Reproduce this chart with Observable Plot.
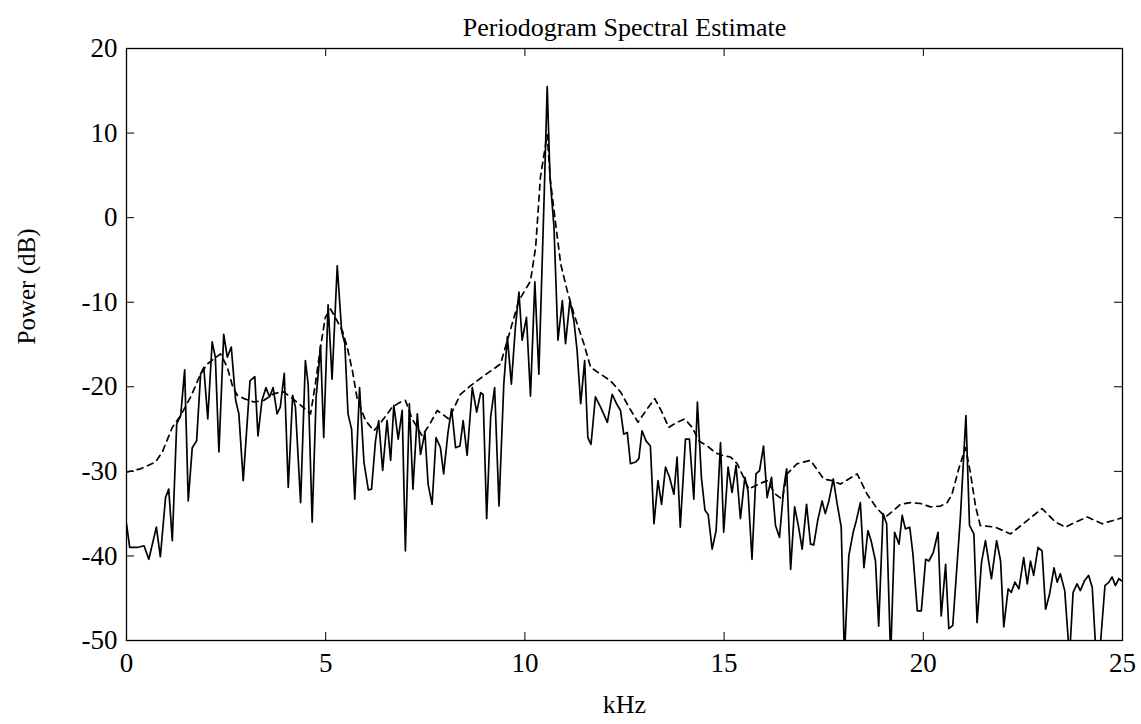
<!DOCTYPE html>
<html><head><meta charset="utf-8">
<script src="https://cdn.jsdelivr.net/npm/d3@7"></script>
<script src="https://cdn.jsdelivr.net/npm/@observablehq/plot@0.6"></script>
<style>body{margin:0;background:#fff}</style>
</head><body><div id="chart"></div>
<script>
// Periodogram (solid line): frequency in kHz and power in dB
const periodogramKHz = [0.00,0.08,0.27,0.44,0.56,0.75,0.85,0.98,1.06,1.15,1.26,1.36,1.46,1.55,1.65,1.76,1.86,1.94,2.04,2.15,2.23,2.32,2.44,2.53,2.63,2.74,2.82,2.93,3.10,3.22,3.30,3.40,3.50,3.59,3.68,3.78,3.86,3.96,4.06,4.17,4.24,4.37,4.49,4.56,4.66,4.76,4.83,4.87,4.95,5.06,5.16,5.29,5.40,5.48,5.56,5.65,5.73,5.85,5.96,6.07,6.15,6.25,6.33,6.43,6.54,6.63,6.71,6.82,6.92,7.00,7.10,7.19,7.30,7.38,7.49,7.57,7.67,7.77,7.88,7.96,8.07,8.16,8.26,8.37,8.45,8.55,8.68,8.79,8.89,8.95,9.04,9.14,9.24,9.35,9.47,9.56,9.66,9.76,9.85,9.93,10.04,10.14,10.25,10.35,10.48,10.56,10.63,10.73,10.83,10.94,11.02,11.13,11.23,11.31,11.40,11.50,11.58,11.66,11.77,11.90,12.07,12.19,12.30,12.40,12.48,12.57,12.65,12.78,12.86,12.94,13.04,13.15,13.24,13.34,13.43,13.53,13.63,13.74,13.82,13.90,14.03,14.13,14.24,14.33,14.43,14.52,14.60,14.70,14.80,14.91,14.99,15.10,15.20,15.30,15.41,15.52,15.60,15.70,15.80,15.89,15.99,16.08,16.19,16.29,16.39,16.50,16.57,16.67,16.77,16.87,16.96,17.07,17.17,17.25,17.35,17.46,17.54,17.63,17.74,17.84,17.94,18.02,18.13,18.24,18.32,18.42,18.51,18.61,18.69,18.80,18.88,18.99,19.08,19.18,19.28,19.39,19.47,19.55,19.66,19.74,19.85,19.95,20.06,20.14,20.25,20.37,20.45,20.56,20.64,20.74,20.93,21.07,21.16,21.27,21.35,21.46,21.56,21.71,21.84,21.94,22.02,22.13,22.21,22.30,22.40,22.52,22.61,22.69,22.77,22.88,22.98,23.07,23.17,23.28,23.36,23.44,23.55,23.67,23.76,23.86,23.94,24.05,24.15,24.24,24.34,24.42,24.56,24.66,24.74,24.82,24.91,25.00];
const periodogramDB = [-36.2,-39.0,-39.0,-38.8,-40.4,-36.6,-40.1,-33.1,-32.1,-38.2,-24.4,-23.4,-18.0,-33.5,-27.2,-26.4,-18.5,-17.7,-23.8,-14.7,-16.5,-27.7,-13.8,-16.5,-15.3,-21.6,-23.2,-31.1,-19.3,-18.8,-25.8,-21.6,-20.1,-21.2,-20.1,-23.2,-22.4,-18.4,-31.9,-21.0,-22.4,-33.7,-16.9,-19.7,-36.0,-21.2,-17.5,-15.1,-26.0,-10.3,-19.1,-5.7,-13.4,-14.9,-23.2,-25.0,-33.3,-20.1,-28.9,-32.2,-32.1,-26.4,-24.0,-29.9,-24.0,-28.7,-22.2,-26.2,-22.8,-39.4,-22.0,-32.1,-23.2,-28.0,-25.4,-31.5,-33.9,-26.0,-27.2,-30.3,-25.4,-22.6,-27.2,-27.0,-24.0,-28.1,-20.1,-23.0,-20.7,-20.9,-35.6,-23.6,-20.1,-34.1,-19.7,-14.1,-19.7,-13.0,-8.8,-14.5,-11.8,-21.1,-7.6,-18.5,2.0,15.5,4.8,-1.1,-14.5,-9.8,-14.9,-9.8,-12.2,-15.7,-22.0,-16.9,-26.0,-26.8,-21.2,-22.4,-24.2,-20.9,-22.0,-22.8,-25.6,-25.4,-29.1,-28.9,-28.5,-25.2,-26.4,-27.0,-36.2,-31.1,-33.9,-29.5,-30.7,-32.7,-28.3,-36.6,-26.2,-26.2,-33.3,-21.8,-30.7,-34.6,-35.1,-39.2,-37.0,-26.6,-37.2,-29.5,-32.5,-29.3,-35.6,-30.7,-32.3,-40.4,-30.3,-29.9,-27.0,-33.1,-30.7,-36.4,-37.8,-31.9,-29.7,-41.6,-34.2,-36.6,-39.2,-33.9,-38.6,-38.7,-35.8,-33.5,-35.0,-33.5,-30.9,-33.9,-36.6,-52.0,-40.0,-37.2,-35.8,-33.7,-41.4,-37.0,-38.2,-40.6,-48.3,-35.0,-36.2,-52.0,-37.2,-38.6,-35.2,-36.8,-36.6,-39.8,-46.5,-46.5,-40.4,-40.6,-39.6,-37.2,-47.1,-41.0,-48.6,-48.2,-35.5,-23.4,-36.4,-37.4,-47.9,-40.8,-38.2,-42.7,-38.2,-40.6,-48.4,-43.9,-44.3,-43.1,-43.9,-40.2,-43.3,-40.6,-42.3,-39.0,-39.4,-46.3,-44.5,-41.4,-43.1,-42.1,-44.1,-52.0,-44.3,-43.3,-44.1,-42.9,-42.3,-43.7,-52.0,-52.0,-43.5,-43.1,-42.5,-43.5,-42.7,-43.0];

// Smoothed estimate (dashed line)
const welchKHz = [0.00,0.35,0.73,0.90,1.15,1.36,1.61,1.86,2.03,2.36,2.53,2.66,2.78,2.95,3.20,3.45,3.70,3.95,4.33,4.62,4.74,4.87,4.99,5.12,5.24,5.42,5.54,5.67,5.79,6.00,6.21,6.42,6.67,6.88,7.00,7.17,7.42,7.59,7.80,8.09,8.38,8.63,8.97,9.39,9.56,9.85,10.14,10.27,10.39,10.56,10.64,10.77,10.90,11.06,11.23,11.48,11.65,11.90,12.15,12.40,12.61,12.84,13.07,13.26,13.44,13.61,13.82,14.01,14.20,14.37,14.58,14.78,14.95,15.16,15.33,15.49,15.62,15.87,16.08,16.29,16.46,16.58,16.83,17.17,17.50,17.71,17.92,18.13,18.34,18.59,18.84,19.05,19.26,19.43,19.68,19.93,20.18,20.43,20.60,20.72,20.89,21.06,21.18,21.31,21.43,21.81,22.19,22.56,22.98,23.32,23.57,23.82,24.12,24.49,24.91,25.00];
const welchDB = [-30.1,-29.7,-28.9,-27.7,-24.8,-23.4,-21.2,-18.5,-17.3,-16.1,-17.7,-19.9,-21.0,-21.4,-21.8,-21.6,-20.8,-20.6,-22.0,-23.2,-19.7,-15.3,-11.8,-10.8,-11.8,-13.4,-15.3,-18.1,-21.4,-24.0,-25.2,-24.0,-22.4,-21.8,-21.6,-23.8,-25.8,-24.6,-22.8,-23.8,-20.9,-19.9,-18.7,-17.3,-14.5,-9.8,-7.5,-3.5,4.8,9.8,4.4,-0.7,-5.5,-8.6,-11.4,-14.9,-17.7,-18.5,-19.3,-20.6,-22.4,-24.2,-22.6,-21.4,-23.0,-24.8,-24.2,-23.8,-24.8,-26.4,-27.0,-27.8,-28.1,-28.3,-29.1,-30.7,-32.1,-31.5,-31.1,-32.7,-33.3,-30.3,-29.1,-28.7,-30.9,-31.1,-31.5,-30.9,-30.3,-32.7,-34.4,-35.4,-34.6,-33.9,-33.7,-33.8,-34.2,-34.1,-33.7,-32.7,-29.7,-27.2,-30.1,-34.1,-36.4,-36.6,-37.4,-36.0,-34.4,-36.0,-36.6,-36.0,-35.4,-36.2,-35.6,-35.5];

const xTicks = [0, 5, 10, 15, 20, 25];
const yTicks = [-50, -40, -30, -20, -10, 0, 10, 20];
const titleText = "Periodogram Spectral Estimate";
const xLabel = "kHz";
const yLabel = "Power (dB)";

const W = 1141, H = 724;
const mL = 126, mR = 19, mT = 48, mB = 84;
const plotW = W - mL - mR, plotH = H - mT - mB;
const tick = 8;
const font = "'Liberation Serif', 'Times New Roman', serif";

const solid = periodogramKHz.map((f, i) => ({f, p: periodogramDB[i]}));
const dashed = welchKHz.map((f, i) => ({f, p: welchDB[i]}));

const chart = Plot.plot({
  width: W, height: H,
  marginLeft: mL, marginRight: mR, marginTop: mT, marginBottom: mB,
  style: {fontFamily: font, fontSize: "24px", background: "white", color: "black"},
  x: {domain: [0, 25]},
  y: {domain: [-50, 20]},
  marks: [
    Plot.line(solid, {x: "f", y: "p", stroke: "black", strokeWidth: 1.7, clip: true}),
    Plot.line(dashed, {x: "f", y: "p", stroke: "black", strokeWidth: 1.7, strokeDasharray: "6,5", clip: true}),
    Plot.frame({stroke: "black", strokeWidth: 1.3}),
    Plot.tickX(xTicks, {x: d => d, insetTop: plotH - tick, stroke: "black"}),
    Plot.tickX(xTicks, {x: d => d, insetBottom: plotH - tick, stroke: "black"}),
    Plot.tickY(yTicks, {y: d => d, insetRight: plotW - tick, stroke: "black"}),
    Plot.tickY(yTicks, {y: d => d, insetLeft: plotW - tick, stroke: "black"}),
    Plot.axisX({ticks: xTicks, tickSize: 0, tickPadding: 12, tickFormat: d => String(d), label: null, fontSize: 27}),
    Plot.axisY({ticks: yTicks, tickSize: 0, tickPadding: 9, tickFormat: d => String(d), label: null, fontSize: 27}),
    Plot.text([titleText], {frameAnchor: "top", dy: -31, fontSize: 26, fill: "black"}),
    Plot.text([xLabel], {frameAnchor: "bottom", dy: 72, fontSize: 26, fill: "black"}),
    Plot.text([yLabel], {frameAnchor: "left", dx: -100, rotate: -90, fontSize: 25, fill: "black"})
  ]
});
document.getElementById("chart").appendChild(chart);
</script>
</body></html>
